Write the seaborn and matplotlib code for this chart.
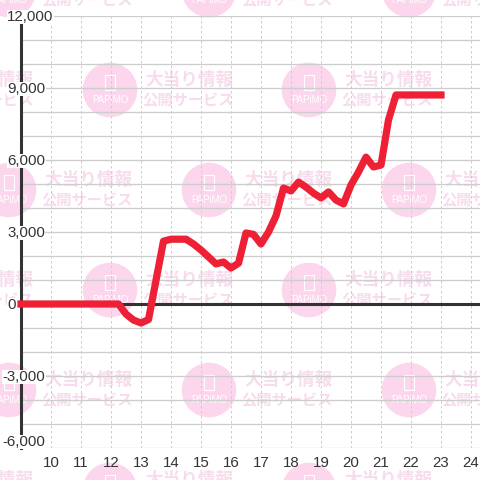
import pandas as pd
import matplotlib
matplotlib.use("Agg")
import matplotlib.pyplot as plt
from matplotlib.patches import Circle, Rectangle
import seaborn as sns

# ============================================================
# Data
# ============================================================

hours = [9, 12.25, 12.5, 12.75, 13, 13.25, 13.75, 14, 14.5, 14.75, 15, 15.25,
         15.5, 15.75, 16, 16.25, 16.5, 16.75, 17, 17.25, 17.5, 17.75, 18, 18.25,
         18.5, 18.75, 19, 19.25, 19.5, 19.75, 20, 20.25, 20.5, 20.75, 21, 21.25,
         21.5, 23]
balance = [0, 0, -420, -670, -790, -650, 2620, 2700, 2700, 2500, 2250, 1960,
           1670, 1750, 1500, 1700, 2960, 2900, 2500, 3000, 3670, 4830, 4710, 5080,
           4870, 4620, 4420, 4670, 4330, 4170, 4960, 5500, 6120, 5710, 5790, 7670,
           8710, 8710]

hour_ticks = list(range(10, 25))
minor_values = list(range(-6000, 13000, 1000))
label_values = [12000, 9000, 6000, 3000, 0, -3000, -6000]

title_lines = ["大当り情報", "公開サービス"]
logo_text = "PAPiMO"

df = pd.DataFrame({"hour": hours, "balance": balance})

# ============================================================
# Figure
# ============================================================

sns.set_theme(style="white")
plt.rcParams["font.family"] = ["Liberation Sans", "DejaVu Sans"]

dark = "#333333"
grid = "#cdcdcd"
red = "#ee2036"
pink = "#fbd6ec"
pink_text = "#f6dcec"
cjk = ["Noto Sans CJK JP", "DejaVu Sans"]
label_size = 10.8

fig = plt.figure(figsize=(4.8, 4.8), dpi=100)

# ============================================================
# Watermark, behind the chart, in pixel coordinates
# ============================================================

bg = fig.add_axes([0, 0, 1, 1], zorder=0)
bg.set_xlim(0, 480)
bg.set_ylim(480, 0)
bg.axis("off")

for row, cy in enumerate([-10, 90, 190, 290, 390, 490]):
    cols = [9, 209, 409] if row % 2 == 0 else [-90, 110, 309, 509]
    for cx in cols:
        bg.add_patch(Circle((cx, cy), 27.3, color=pink, lw=0))
        bg.add_patch(Rectangle((cx - 5, cy - 15), 10, 15, fill=False,
                               edgecolor="white", lw=0.8))
        bg.text(cx, cy + 10, logo_text, color="white", fontsize=7,
                ha="center", va="center", family="Liberation Sans")
        bg.text(cx + 79, cy - 10, title_lines[0], color=pink_text, fontsize=12.7,
                fontweight="bold", ha="center", va="center", family=cjk)
        bg.text(cx + 78, cy + 10, title_lines[1], color=pink_text, fontsize=11,
                fontweight="bold", ha="center", va="center", family=cjk)

# ============================================================
# Chart
# ============================================================

ax = fig.add_axes([21 / 480, 32 / 480, 459 / 480, 432 / 480], zorder=1)
ax.patch.set_visible(False)

ax.set_xlim(9, 24.3)
ax.set_ylim(-6000, 12000)

ax.set_xticks(hour_ticks)
ax.set_yticks(minor_values)
ax.set_yticklabels([])
ax.grid(axis="y", color=grid, lw=0.95, zorder=1)
ax.grid(axis="x", color=grid, lw=0.72, linestyle=(0, (2.5, 2.5)), zorder=1)
ax.set_axisbelow(True)
ax.tick_params(axis="both", length=0)
ax.tick_params(axis="x", labelsize=label_size, labelcolor=dark, pad=5.5)

sns.despine(ax=ax, top=True, right=True, bottom=True)
ax.spines["left"].set_color(dark)
ax.spines["left"].set_linewidth(2.2)
ax.spines["left"].set_zorder(3)

ax.axhline(0, color=dark, lw=2.2, zorder=3)

sns.lineplot(data=df, x="hour", y="balance", color=red, lw=5.2, ax=ax,
             errorbar=None, solid_capstyle="projecting", solid_joinstyle="round",
             clip_on=False, zorder=5)
ax.set_xlabel("")
ax.set_ylabel("")

# y labels sit on a white box, breaking the axis line
for value in label_values:
    x_off = -13.3 if value < 0 else -10
    y_off = 4.3 if value == -6000 else -0.72
    ax.annotate(f"{value:,}", xy=(9, value), xycoords="data",
                xytext=(x_off, y_off), textcoords="offset points",
                ha="left", va="center", fontsize=label_size, color=dark, zorder=4,
                annotation_clip=False,
                bbox=dict(facecolor="white", edgecolor="none", pad=0.3))

fig.savefig("out.png", dpi=100)
